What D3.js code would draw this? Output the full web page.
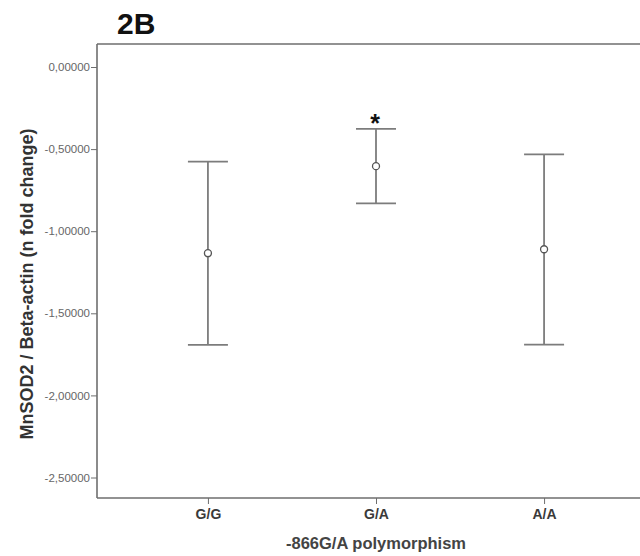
<!DOCTYPE html>
<html><head><meta charset="utf-8">
<script src="https://cdn.jsdelivr.net/npm/d3@7"></script>
<style>body{margin:0;background:#fff}svg{display:block}</style>
</head><body><svg id="c" width="640" height="556"></svg>
<script>
const categories = ["G/G", "G/A", "A/A"];
const means = [-1.134, -0.604, -1.110];
const upper = [-0.576, -0.377, -0.532];
const lower = [-1.692, -0.830, -1.691];
const significant = [false, true, false];
const yTicks = [0, -0.5, -1.0, -1.5, -2.0, -2.5];

(function () {
const svg = d3.select("#c");
const mLeft = 97, mTop = 44, mBottom = 498, mRight = 655;
const y = d3.scaleLinear().domain([0, -2.5]).range([67, 477.5]);
const x = d3.scalePoint().domain(categories).range([mLeft, mRight]).padding(0.66);
const font = "Arial, Liberation Sans, sans-serif";

const axisCol = "#6e6e6e", barCol = "#7c7c7c";
const fmt = v => d3.format(".5f")(v).replace(".", ",").replace("−", "-");

svg.append("line").attr("x1", mLeft).attr("x2", mLeft).attr("y1", mTop).attr("y2", mBottom).attr("stroke", axisCol).attr("stroke-width", 1.6);
svg.append("line").attr("x1", mLeft).attr("x2", 640).attr("y1", mTop).attr("y2", mTop).attr("stroke", axisCol).attr("stroke-width", 1.6);

const yAxis = d3.axisLeft(y).tickValues(yTicks).tickSize(6).tickPadding(1).tickFormat(fmt);
const gy = svg.append("g").attr("transform", `translate(${mLeft},0)`).call(yAxis);
gy.select(".domain").remove();
gy.selectAll(".tick line").attr("stroke", axisCol);
gy.selectAll(".tick text").attr("font-family", font).attr("font-size", 11.5).attr("fill", "#666");

const xAxis = d3.axisBottom(x).tickSize(6).tickPadding(5);
const gx = svg.append("g").attr("transform", `translate(0,${mBottom})`).call(xAxis);
gx.select(".domain").attr("d", `M${mLeft},0H640`).attr("stroke", axisCol).attr("stroke-width", 1.6);
gx.selectAll(".tick line").attr("stroke", axisCol);
gx.selectAll(".tick text").attr("font-family", font).attr("font-size", 14).attr("font-weight", "bold").attr("fill", "#3a3a3a");

const capW = 20;
categories.forEach((c, i) => {
  const cx = x(c);
  const g = svg.append("g").attr("stroke", barCol).attr("stroke-width", 1.8);
  g.append("line").attr("x1", cx).attr("x2", cx).attr("y1", y(upper[i])).attr("y2", y(lower[i]));
  g.append("line").attr("x1", cx - capW).attr("x2", cx + capW).attr("y1", y(upper[i])).attr("y2", y(upper[i]));
  g.append("line").attr("x1", cx - capW).attr("x2", cx + capW).attr("y1", y(lower[i])).attr("y2", y(lower[i]));
  svg.append("circle").attr("cx", cx).attr("cy", y(means[i])).attr("r", 3.5)
    .attr("fill", "#fff").attr("stroke", "#555").attr("stroke-width", 1.3);
  if (significant[i]) {
    svg.append("text").attr("x", cx - 1).attr("y", y(upper[i]) + 3).attr("text-anchor", "middle")
      .attr("font-family", font).attr("font-size", 25).attr("font-weight", "bold")
      .attr("fill", "#111").text("*");
  }
});

svg.append("text").attr("x", 117).attr("y", 34).attr("font-family", font)
  .attr("font-size", 30).attr("font-weight", "bold").attr("fill", "#111").text("2B");

svg.append("text").attr("transform", "translate(33,284) rotate(-90)").attr("text-anchor", "middle")
  .attr("font-family", font).attr("font-size", 18).attr("font-weight", "bold")
  .attr("fill", "#333").text("MnSOD2 / Beta-actin (n fold change)");

svg.append("text").attr("x", 376).attr("y", 549).attr("text-anchor", "middle")
  .attr("font-family", font).attr("font-size", 16.5).attr("font-weight", "bold")
  .attr("fill", "#444").text("-866G/A polymorphism");
})();
</script></body></html>
